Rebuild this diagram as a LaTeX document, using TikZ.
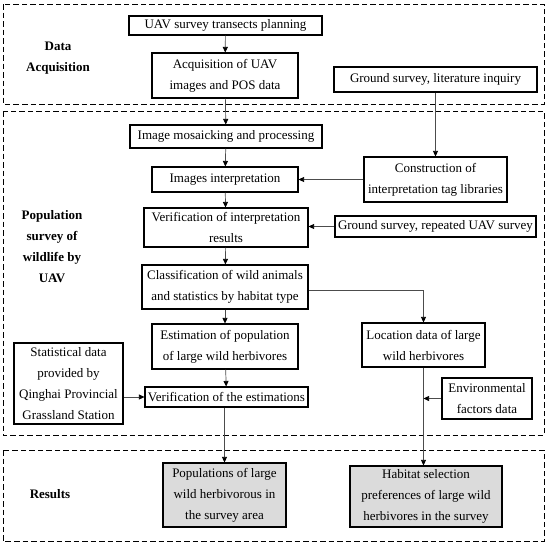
\documentclass[tikz,border=0pt]{standalone}
\usepackage{fontspec}
\setmainfont{Liberation Serif}
\usetikzlibrary{arrows.meta}
\begin{document}
\begin{tikzpicture}[x=1pt,y=-1pt,
  box/.style={draw,line width=1.1pt,inner xsep=1pt,inner ysep=0pt,align=center,font=\fontsize{13}{21}\selectfont},
  result/.style={box,fill=black!14},
  part/.style={draw,line width=1pt,dash pattern=on 5.5pt off 3pt},
  parttitle/.style={align=center,font=\bfseries\fontsize{13}{21}\selectfont},
  link/.style={draw=black!70,line width=0.7pt,-{Triangle[length=5.5pt,width=5pt,color=black]}}]
\useasboundingbox (0,0) rectangle (550,547);

% dashed frames
\draw[part] (3,4) rectangle (544,104);
\draw[part] (3,111) rectangle (544,435);
\draw[part] (3,450) rectangle (544,541);

\node[parttitle] (tacq) at (58,58) {Data\\Acquisition};
\node[parttitle] (tsurvey) at (52,247) {Population\\survey of\\wildlife by\\UAV};
\node[parttitle] (tres) at (50,494) {Results};

% data acquisition
\node[box,minimum width=193pt,minimum height=19pt] (plan) at (225.5,25.5) {UAV survey transects planning};
\node[box,minimum width=146pt,minimum height=45pt] (acq) at (225,75.5) {Acquisition of UAV\\images and POS data};
\node[box,minimum width=203pt,minimum height=25pt] (lit) at (435.5,79.5) {Ground survey, literature inquiry};

% population survey
\node[box,minimum width=192pt,minimum height=23pt] (mosaic) at (226,136.5) {Image mosaicking and processing};
\node[box,minimum width=143pt,minimum height=45pt] (tags) at (435.5,179.5) {Construction of\\interpretation tag libraries};
\node[box,minimum width=146pt,minimum height=25pt] (interp) at (225,179.5) {Images interpretation};
\node[box,minimum width=164pt,minimum height=39pt] (verif) at (226,227.5) {Verification of interpretation\\results};
\node[box,minimum width=201pt,minimum height=21pt] (repeat) at (435.5,226.5) {Ground survey, repeated UAV survey};
\node[box,minimum width=166pt,minimum height=44pt] (classify) at (225,287) {Classification of wild animals\\and statistics by habitat type};
\node[box,minimum width=146pt,minimum height=45pt] (estimate) at (225,346.5) {Estimation of population\\of large wild herbivores};
\node[box,minimum width=123pt,minimum height=44pt] (location) at (423.5,345) {Location data of large\\wild herbivores};
\node[box,minimum width=109pt,minimum height=81pt] (station) at (68.5,383.5) {Statistical data\\provided by\\Qinghai Provincial\\Grassland Station};
\node[box,minimum width=163pt,minimum height=20pt] (check) at (226.5,397) {Verification of the estimations};
\node[box,minimum width=90pt,minimum height=41pt] (env) at (487,398.5) {Environmental\\factors data};

% results
\node[result,minimum width=123pt,minimum height=64pt] (popres) at (224.5,495) {Populations of large\\wild herbivorous in\\the survey area};
\node[result,minimum width=152pt,minimum height=61pt] (habitat) at (426,496.5) {Habitat selection\\preferences of large wild\\herbivores in the survey};

% connectors
\draw[link] (plan) -- (acq);
\draw[link] (acq) -- (mosaic);
\draw[link] (mosaic) -- (interp);
\draw[link] (lit) -- (tags);
\draw[link] (tags) -- (interp);
\draw[link] (interp) -- (verif);
\draw[link] (repeat.west) -- (repeat.west -| verif.east);
\draw[link] (verif) -- (classify);
\draw[link] ([yshift=-3pt]classify.east) -| (location);
\draw[link] (classify) -- (estimate);
\draw[link] (estimate) -- (check);
\draw[link] (station.east |- check.west) -- (check.west);
\draw[link] (check.south -| popres.north) -- (popres.north);
\coordinate (join) at (location.south |- env.west);
\draw[link] (location.south) -- (location.south |- habitat.north);
\draw[link] (env.west) -- (join);
\end{tikzpicture}
\end{document}
